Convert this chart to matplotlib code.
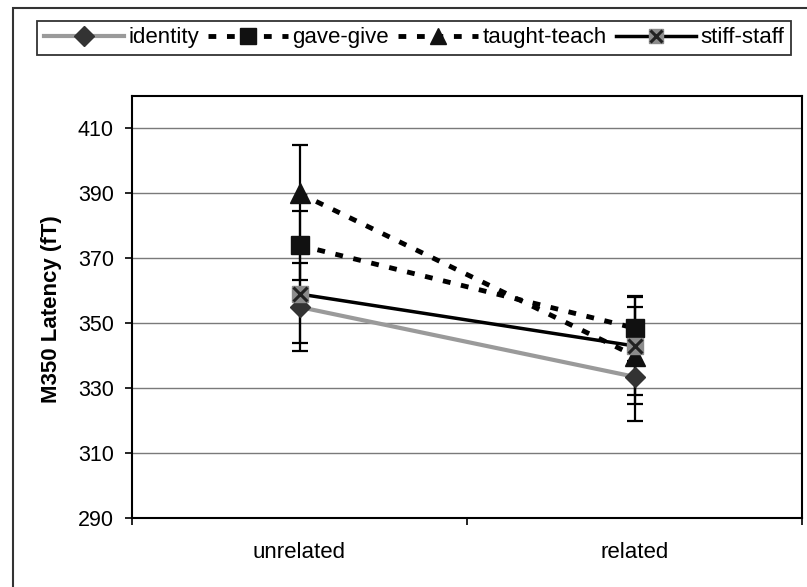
import matplotlib
matplotlib.use("Agg")
import matplotlib.pyplot as plt
from matplotlib.patches import Rectangle
from matplotlib.lines import Line2D

plt.rcParams['font.family'] = ['Liberation Sans', 'DejaVu Sans']

conditions = ['unrelated', 'related']
identity = [355, 333.5]
identity_err = [13.5, 13.5]
gave_give = [374, 348.5]
gave_give_err = [10.7, 10]
taught_teach = [390, 340]
taught_teach_err = [15, 15]
stiff_staff = [359, 343]
stiff_staff_err = [15, 15]
yticks = [290, 310, 330, 350, 370, 390, 410]

W, H = 807, 587
fig = plt.figure(figsize=(W / 100, H / 100), dpi=100)
ax = fig.add_axes([132 / W, (H - 518) / H, 670 / W, 422 / H])

x = list(range(len(conditions)))

# error bars first
for vals, errs in [(identity, identity_err), (gave_give, gave_give_err),
                   (taught_teach, taught_teach_err), (stiff_staff, stiff_staff_err)]:
    ax.errorbar(x, vals, yerr=errs, fmt='none', ecolor='black', elinewidth=1.6,
                capsize=6, capthick=1.6, zorder=3)

ax.plot(x, identity, color='#9a9a9a', lw=3, marker='D', ms=10,
        mfc='#333333', mec='#333333', zorder=4)
ax.plot(x, gave_give, color='black', lw=3.5, ls=(0, (1.6, 2.2)), marker='s', ms=13,
        mfc='#111111', mec='#111111', zorder=5)
ax.plot(x, taught_teach, color='black', lw=3.5, ls=(0, (1.6, 2.2)), marker='^', ms=15,
        mfc='#111111', mec='#111111', zorder=6)
ax.plot(x, stiff_staff, color='black', lw=2.5, marker='s', ms=11,
        mfc='#8c8c8c', mec='#8c8c8c', zorder=7)
ax.plot(x, stiff_staff, ls='none', marker='x', ms=10, mew=2.2, mec='#222222', zorder=8)

ax.set_xlim(-0.5, 1.5)
ax.set_ylim(290, 420)
ax.set_yticks(yticks)
ax.set_yticklabels([str(v) for v in yticks])
ax.set_xticks(x)
ax.set_xticklabels(conditions)
ax.set_xticks([-0.5, 0.5, 1.5], minor=True)
ax.tick_params(axis='x', which='major', length=0, pad=17, labelsize=16)
ax.tick_params(axis='x', which='minor', length=5, width=1.2, direction='out')
ax.tick_params(axis='y', length=5, width=1.2, pad=8, labelsize=15.5)
ax.grid(axis='y', color='#7a7a7a', lw=1.0)
ax.set_axisbelow(True)
for s in ax.spines.values():
    s.set_linewidth(1.5)
    s.set_color('black')

fig.text(52 / W, 1 - 309 / H, 'M350 Latency (fT)', rotation=90, ha='center', va='center',
         fontsize=16, fontweight='bold')

# outer chart border
fig.patches.append(Rectangle((12.5 / W, -0.02), 1.2, 1 - 8 / H + 0.02,
                             transform=fig.transFigure, fill=False,
                             edgecolor='#333333', lw=1.5))

handles = [
    Line2D([], [], color='#9a9a9a', lw=3, marker='D', ms=10, mfc='#333333', mec='#333333'),
    Line2D([], [], color='black', lw=3.5, ls=(0, (1.6, 2.2)), marker='s', ms=11,
           mfc='#111111', mec='#111111'),
    Line2D([], [], color='black', lw=3.5, ls=(0, (1.6, 2.2)), marker='^', ms=11,
           mfc='#111111', mec='#111111'),
    (Line2D([], [], color='black', lw=2.5, marker='s', ms=10, mfc='#8c8c8c', mec='#8c8c8c'),
     Line2D([], [], ls='none', marker='x', ms=8, mew=2.2, mec='#222222')),
]
labels = ['identity', 'gave-give', 'taught-teach', 'stiff-staff']
leg = fig.legend(handles, labels, loc='lower left',
                 bbox_to_anchor=(37 / W, 1 - 55 / H, (791 - 37) / W, 41 / H),
                 mode='expand', ncol=4, fontsize=16, frameon=True, fancybox=False,
                 edgecolor='black', handlelength=3.6, handletextpad=0.2,
                 columnspacing=0.4, borderaxespad=0, borderpad=0.3)
leg.get_frame().set_linewidth(1.3)

fig.savefig('out.png', dpi=100)
